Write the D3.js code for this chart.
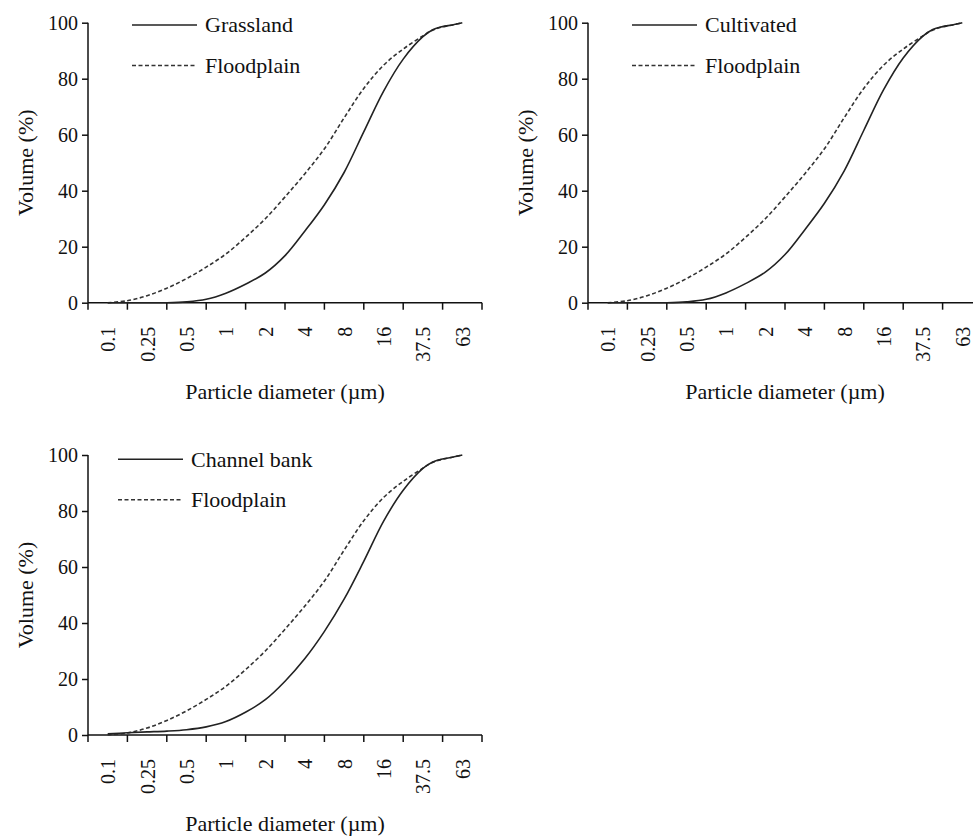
<!DOCTYPE html>
<html>
<head>
<meta charset="utf-8">
<script src="https://cdn.jsdelivr.net/npm/d3@7"></script>
<style>
  html, body { margin: 0; padding: 0; background: #fff; }
  svg { display: block; }
  text { font-family: "Liberation Serif", "Times New Roman", serif; fill: #111; }
</style>
</head>
<body>
<svg id="chart" width="973" height="840"></svg>
<script>
// ---- data ----
const tickLabels = ["0.1", "0.25", "0.5", "1", "2", "4", "8", "16", "37.5", "63"];
const tickValues = [0.1, 0.25, 0.5, 1, 2, 4, 8, 16, 37.5, 63];
const yTicks = [0, 20, 40, 60, 80, 100];

const diameter = [0.1, 0.158, 0.25, 0.354, 0.5, 0.707, 1, 1.41, 2, 2.83, 4, 5.66, 8, 11.3, 16, 24.5, 37.5, 42.7, 48.6, 55.3, 63];
const floodplain = [0, 0.7, 2.5, 5.2, 8.6, 12.7, 17.4, 23.3, 30, 37.8, 46, 55, 66, 76.5, 84.8, 90.6, 95.3, 97.4, 98.5, 99.2, 100];
const grassland  = [0, 0, 0, 0, 0.3, 1.2, 3.4, 6.6, 10.6, 16.8, 25.5, 35, 46.5, 61, 75.5, 87, 95, 97.5, 98.6, 99.2, 100];
const cultivated = [0, 0, 0, 0, 0.3, 1.2, 3.5, 6.8, 10.9, 17.2, 26, 35.5, 47, 61.5, 76, 87.4, 95.2, 97.6, 98.6, 99.2, 100];
const channelBank = [0.4, 0.8, 1.1, 1.4, 1.9, 2.9, 4.8, 8.1, 12.6, 19.2, 27.2, 37, 48.5, 62, 76.3, 87.4, 95.2, 97.5, 98.6, 99.2, 100];

const panelNames = ["Grassland", "Cultivated", "Channel bank"];
const panelSeries = [grassland, cultivated, channelBank];
const referenceName = "Floodplain";
const xTitle = "Particle diameter (\u00b5m)";
const yTitle = "Volume (%)";

// ---- layout ----
const panels = [
  { ox: 0,   oy: 0,     legX: 132 },
  { ox: 500, oy: 0,     legX: 632 },
  { ox: 0,   oy: 432.3, legX: 118 }
];
const X0 = 88, X1 = 482, Y0 = 302.7, Y100 = 22.7;

const svg = d3.select("#chart");

panels.forEach((p, pi) => {
  const g = svg.append("g").attr("transform", `translate(${p.ox},${p.oy})`);

  const band = d3.scaleBand().domain(tickLabels).range([X0, X1]).padding(0);
  const centers = tickLabels.map(l => band(l) + band.bandwidth() / 2);
  const x = d3.scaleLog().domain(tickValues).range(centers);
  const y = d3.scaleLinear().domain([0, 100]).range([Y0, Y100]);

  // y axis
  const yAxis = g.append("g").attr("transform", `translate(${X0},0)`)
    .call(d3.axisLeft(y).tickValues(yTicks).tickSize(6).tickPadding(4));
  yAxis.select(".domain").attr("stroke", "#111").attr("stroke-width", 1.5).attr("d", `M0,${Y100}V${Y0}`);
  yAxis.selectAll(".tick line").attr("stroke", "#111").attr("stroke-width", 1.5);
  yAxis.selectAll(".tick text").style("font-size", "20px").attr("fill", "#111")
    .attr("font-family", "Liberation Serif");

  // x axis (category style: ticks at band edges, labels at centers)
  const edges = d3.range(tickLabels.length + 1).map(i => X0 + i * band.bandwidth());
  const xa = g.append("g");
  xa.append("line").attr("x1", X0).attr("x2", X1).attr("y1", Y0).attr("y2", Y0)
    .attr("stroke", "#111").attr("stroke-width", 1.5);
  xa.selectAll("line.tk").data(edges).join("line").attr("class", "tk")
    .attr("x1", d => d).attr("x2", d => d).attr("y1", Y0).attr("y2", Y0 + 7)
    .attr("stroke", "#111").attr("stroke-width", 1.5);
  xa.selectAll("text.tl").data(tickLabels).join("text").attr("class", "tl")
    .attr("transform", (d, i) => `translate(${centers[i] + 0.5},${Y0 + 24}) rotate(-90)`)
    .attr("text-anchor", "end").attr("dy", "0.35em")
    .style("font-size", "20px").text(d => d);

  // titles
  g.append("text").attr("x", 285).attr("y", Y0 + 96).attr("text-anchor", "middle")
    .style("font-size", "22px").text(xTitle);
  g.append("text").attr("transform", `translate(33,${(Y0 + Y100) / 2}) rotate(-90)`)
    .attr("text-anchor", "middle").style("font-size", "22px").text(yTitle);

  // lines
  const line = d3.line().x(d => x(d[0])).y(d => y(d[1])).curve(d3.curveCatmullRom.alpha(0.5));
  const solidData = diameter.map((d, i) => [d, panelSeries[pi][i]]);
  const dashData = diameter.map((d, i) => [d, floodplain[i]]);
  g.append("path").datum(dashData).attr("d", line).attr("fill", "none")
    .attr("stroke", "#333").attr("stroke-width", 1.6).attr("stroke-dasharray", "4,2.5");
  g.append("path").datum(solidData).attr("d", line).attr("fill", "none")
    .attr("stroke", "#222").attr("stroke-width", 1.6);

  // legend
  const ly1 = Y100 + (pi === 2 ? 4.3 : 2.3);
  const ly2 = ly1 + 40.5;
  const lg = g.append("g");
  lg.append("line").attr("x1", p.legX - p.ox).attr("x2", p.legX - p.ox + 65).attr("y1", ly1).attr("y2", ly1)
    .attr("stroke", "#222").attr("stroke-width", 1.6);
  lg.append("text").attr("x", p.legX - p.ox + 73).attr("y", ly1).attr("dy", "0.33em")
    .style("font-size", "22px").text(panelNames[pi]);
  lg.append("line").attr("x1", p.legX - p.ox).attr("x2", p.legX - p.ox + 65).attr("y1", ly2).attr("y2", ly2)
    .attr("stroke", "#333").attr("stroke-width", 1.6).attr("stroke-dasharray", "4,2.5");
  lg.append("text").attr("x", p.legX - p.ox + 73).attr("y", ly2).attr("dy", "0.33em")
    .style("font-size", "22px").text(referenceName);
});
</script>
</body>
</html>
